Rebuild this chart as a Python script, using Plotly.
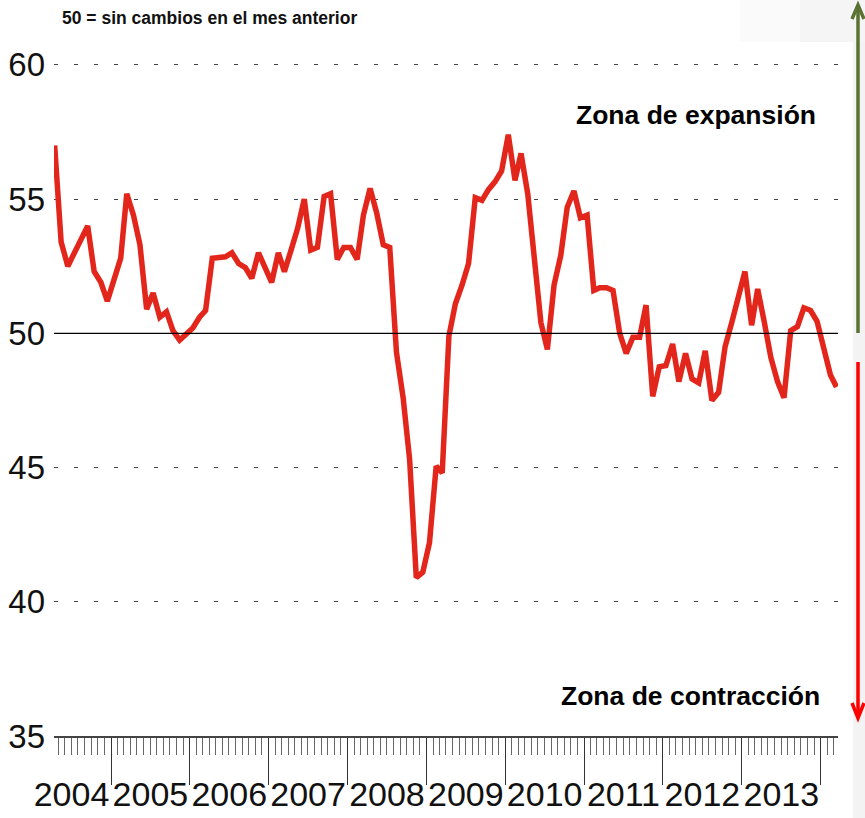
import pandas as pd
import plotly.graph_objects as go

# Monthly index values, Apr 2004 - Mar 2014
values = [
    57.0, 53.4, 52.5, 53.0, 53.5, 54.0, 52.3, 51.9, 51.2,            # 2004 (Apr-Dec)
    52.0, 52.8, 55.2, 54.4, 53.3, 50.9, 51.5, 50.6, 50.8, 50.1, 49.75, 50.0,   # 2005
    50.2, 50.6, 50.85, 52.8, 52.85, 52.85, 53.0, 52.6, 52.45, 52.05, 53.0, 52.4,  # 2006
    51.9, 53.0, 52.3, 53.1, 53.9, 55.0, 53.1, 53.2, 55.1, 55.2, 52.75, 53.2,      # 2007
    53.2, 52.75, 54.4, 55.4, 54.5, 53.3, 53.2, 49.3, 47.6, 45.3, 40.9, 41.1,      # 2008
    42.2, 45.05, 44.8, 49.9, 51.1, 51.8, 52.6, 55.05, 54.95, 55.35, 55.65, 56.05, # 2009
    57.4, 55.7, 56.7, 55.2, 52.6, 50.4, 49.4, 51.8, 52.9, 54.7, 55.3, 54.3,       # 2010
    54.4, 51.6, 51.7, 51.7, 51.6, 50.0, 49.25, 49.85, 49.85, 51.05, 47.65, 48.75, # 2011
    48.8, 49.6, 48.2, 49.25, 48.3, 48.15, 49.35, 47.5, 47.8, 49.5, 50.4, 51.35,   # 2012
    52.3, 50.3, 51.65, 50.4, 49.1, 48.2, 47.6, 50.1, 50.25, 50.95, 50.85, 50.45,  # 2013
    49.5, 48.45, 48.0,                                                            # 2014 (Jan-Mar)
]
months = pd.date_range(start="2004-04-01", periods=len(values), freq="MS") + pd.Timedelta(days=14)

y_ticks = [35, 40, 45, 50, 55, 60]
subtitle = "50 = sin cambios en el mes anterior"
zone_up = "Zona de expansión"
zone_down = "Zona de contracción"

W, H = 865, 818
L, R, T, B = 54, 27, 38, 82
PW, PH = W - L - R, H - T - B

def px(x):
    return (x - L) / PW

def py(y):
    return (H - B - y) / PH

TEXT_FONT = "Liberation Sans, Arial, sans-serif"
TICK_FONT = "Liberation Sans, Arial, sans-serif"

fig = go.Figure()
fig.add_trace(go.Scatter(
    x=months, y=values, mode="lines",
    line=dict(color="#e3261b", width=5.5),
    hoverinfo="skip", showlegend=False,
))

shapes = [
    # background tints
    dict(type="rect", xref="paper", yref="paper", x0=px(853), x1=px(W), y0=py(H), y1=py(0),
         fillcolor="#f3f3f3", line=dict(width=0), layer="below"),
    dict(type="rect", xref="paper", yref="paper", x0=px(740), x1=px(W), y0=py(42), y1=py(0),
         fillcolor="#fafafa", line=dict(width=0), layer="below"),
    dict(type="rect", xref="paper", yref="paper", x0=px(800), x1=px(W), y0=py(42), y1=py(0),
         fillcolor="#f5f5f5", line=dict(width=0), layer="below"),
    # 50 reference line
    dict(type="line", xref="paper", yref="y", x0=0, x1=1, y0=50, y1=50,
         line=dict(color="#000000", width=1.2)),
    # green arrow up
    dict(type="path", xref="paper", yref="paper",
         path=f"M {px(858)},{py(333)} L {px(858)},{py(5)}",
         line=dict(color="#5b7232", width=3.5)),
    dict(type="path", xref="paper", yref="paper",
         path=f"M {px(852)},{py(19)} L {px(858)},{py(5)} L {px(864)},{py(19)}",
         line=dict(color="#5b7232", width=3.5)),
    # red arrow down
    dict(type="path", xref="paper", yref="paper",
         path=f"M {px(858)},{py(362)} L {px(858)},{py(718)}",
         line=dict(color="#ff0000", width=3.5)),
    dict(type="path", xref="paper", yref="paper",
         path=f"M {px(852)},{py(703)} L {px(858)},{py(718)} L {px(864)},{py(703)}",
         line=dict(color="#ff0000", width=3.5)),
]

annotations = [
    dict(text=f"<b>{subtitle}</b>", xref="paper", yref="paper", x=px(60), y=py(18),
         xanchor="left", yanchor="middle", showarrow=False,
         font=dict(family=TEXT_FONT, size=17.5, color="#111")),
    dict(text=f"<b>{zone_up}</b>", xref="paper", yref="paper", x=px(818), y=py(115),
         xanchor="right", yanchor="middle", showarrow=False,
         font=dict(family=TEXT_FONT, size=26.5, color="#000")),
    dict(text=f"<b>{zone_down}</b>", xref="paper", yref="paper", x=px(822), y=py(696),
         xanchor="right", yanchor="middle", showarrow=False,
         font=dict(family=TEXT_FONT, size=26.5, color="#000")),
]

fig.update_layout(
    width=W, height=H,
    margin=dict(l=L, r=R, t=T, b=B, pad=0, autoexpand=False),
    paper_bgcolor="white", plot_bgcolor="rgba(0,0,0,0)",
    shapes=shapes, annotations=annotations,
    xaxis=dict(
        type="date", range=["2004-04-12", "2014-03-22"],
        tick0="2004-01-01", dtick="M12", tickformat="%Y", ticklabelmode="period",
        tickangle=0, automargin=False,
        ticks="outside", ticklen=47, tickwidth=1, tickcolor="#333",
        ticklabelstandoff=-20,
        showline=True, linecolor="#444", linewidth=1.5,
        showgrid=False, zeroline=False,
        tickfont=dict(family=TICK_FONT, size=34, color="#111"),
        minor=dict(dtick="M1", tick0="2004-01-01", ticks="outside", ticklen=17,
                   tickwidth=1, tickcolor="#666", showgrid=False),
    ),
    yaxis=dict(
        range=[35, 61], tickvals=y_ticks, ticktext=[str(v) for v in y_ticks],
        automargin=False,
        showgrid=True, gridcolor="#444", gridwidth=1, griddash="4px,16px",
        zeroline=False, showline=False, ticks="",
        ticklabelstandoff=8,
        tickfont=dict(family=TICK_FONT, size=33, color="#111"),
    ),
)

fig.write_html("out.html", config={"displayModeBar": False},
               post_script="document.body.style.margin='0';document.body.style.overflow='hidden';")
